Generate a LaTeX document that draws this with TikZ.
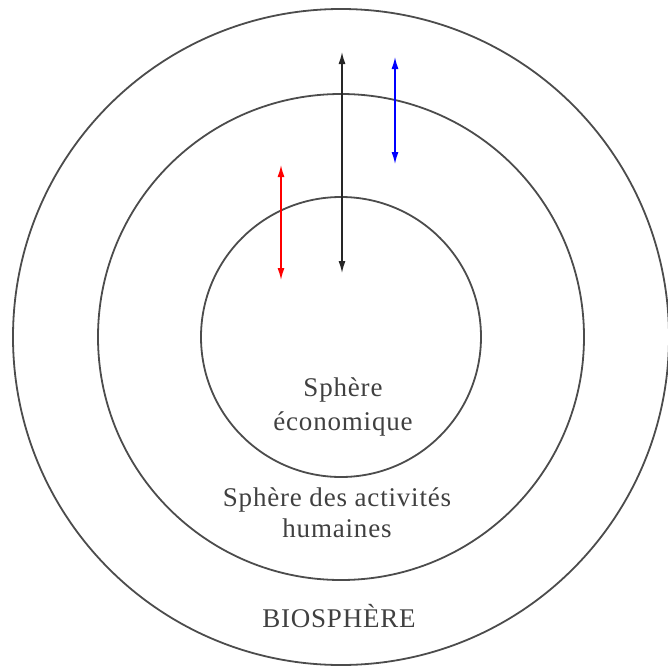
\documentclass[tikz,border=0pt]{standalone}
\usepackage{fontspec}
\setmainfont{Liberation Serif}
\usetikzlibrary{arrows.meta,positioning}

\begin{document}
\begin{tikzpicture}[
    x=1pt, y=-1pt,
    ring/.style={circle, draw=black!70, line width=1.8pt, inner sep=0pt},
    label/.style={align=center, text=black!75, font=\fontsize{27}{31}\selectfont\addfontfeatures{LetterSpace=3}},
    connection/.style={draw, line width=1.4pt, {Latex[length=12pt,width=7pt]}-{Latex[length=12pt,width=7pt]}}
]
\useasboundingbox (0,0) rectangle (668,672);

% spheres
\coordinate (c) at (341,337);
\node[ring, minimum size=656pt] (bio) at (c) {};
\node[ring, minimum size=486pt] (hum) at (c) {};
\node[ring, minimum size=280pt] (eco) at (c) {};

% labels
\node[label] (ecot) at (343,407) {Sphère\\[3pt]économique};
\node[label] (humt) at (337,513) {Sphère des activités\\humaines};
\node[label] (biot) at (339,616) {BIOSPHÈRE};

% arrow ends
\coordinate (k1) at (342,52);
\coordinate (k2) at (342,273);
\coordinate (b1) at (395,57);
\coordinate (b2) at (395,164);
\coordinate (r1) at (281,165);
\coordinate (r2) at (281,280);

\path (k1) edge[connection, black!85] (k2)
      (b1) edge[connection, blue] (b2)
      (r1) edge[connection, red] (r2);
\end{tikzpicture}
\end{document}
